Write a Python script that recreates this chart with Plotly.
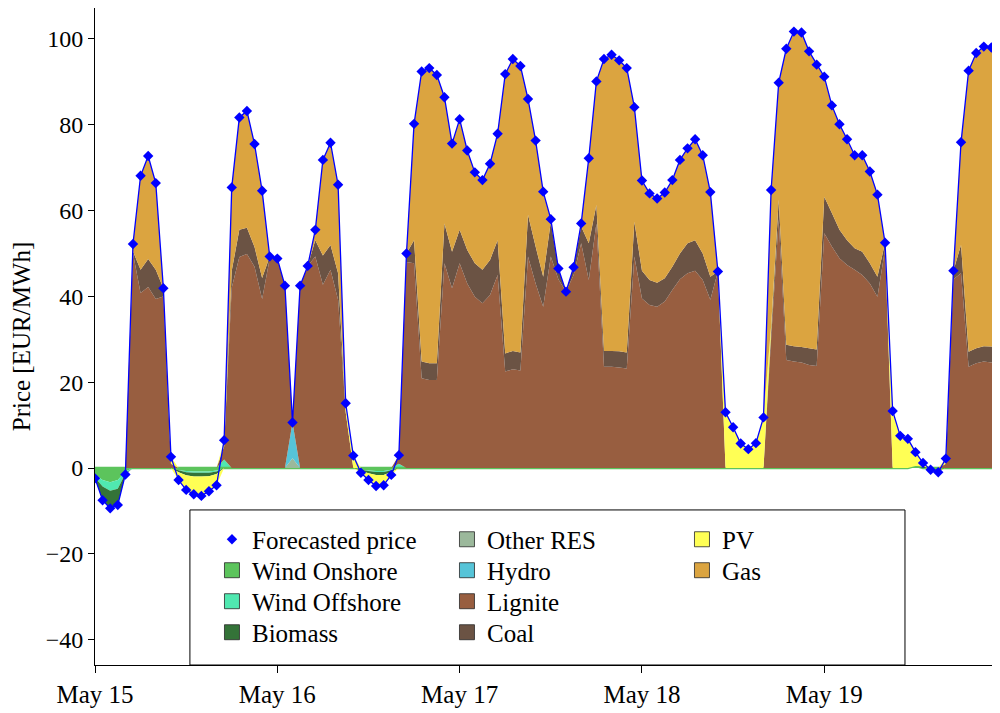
import pandas as pd
import plotly.graph_objects as go

# ---------------- data (hourly, 15-19 May) ----------------
hours = pd.date_range("2019-05-15 00:00", periods=120, freq="h")
day_ticks = pd.date_range("2019-05-15", periods=5, freq="D")
day_labels = ["May 15", "May 16", "May 17", "May 18", "May 19"]

price = [
    -2.4, -7.5, -9.4, -8.6, -1.5, 52.2, 68.1, 72.7, 66.4, 41.9, 2.6, -2.8,
    -5.1, -6.1, -6.5, -5.4, -4.0, 6.5, 65.4, 81.7, 83.2, 75.5, 64.6, 49.3,
    48.8, 42.5, 10.6, 42.5, 47.1, 55.5, 71.8, 75.8, 66.0, 15.1, 2.9, -1.1,
    -2.8, -4.2, -4.0, -1.6, 3.0, 50.0, 80.2, 92.4, 93.2, 91.6, 86.4, 75.6,
    81.3, 74.0, 68.9, 67.1, 70.9, 77.9, 91.8, 95.3, 93.7, 86.0, 76.3, 64.4,
    58.0, 46.5, 41.1, 46.8, 57.0, 72.2, 90.1, 95.3, 96.3, 95.0, 93.2, 84.1,
    67.0, 64.0, 62.8, 64.2, 67.1, 71.8, 74.5, 76.6, 72.9, 64.3, 45.8, 13.0,
    9.5, 5.7, 4.4, 5.8, 11.8, 64.8, 89.8, 97.7, 101.7, 101.5, 97.1, 94.0,
    91.2, 84.5, 80.1, 76.6, 72.9, 72.9, 69.1, 63.7, 52.5, 13.3, 7.5, 6.8,
    3.7, 1.2, -0.4, -1.0, 2.2, 46.0, 75.9, 92.6, 96.7, 98.2, 98.0, 94.7,
]

wind_onshore = [
    -1.5, -2.8, -3.3, -2.8, -0.8, 0, 0, 0, 0, 0, 0, -0.5,
    -0.7, -0.8, -0.8, -0.8, -0.6, 0, 0, 0, 0, 0, 0, 0,
    0, 0, 0, 0, 0, 0, 0, 0, 0, 0, 0, -0.4,
    -0.6, -0.7, -0.7, -0.4, 0, 0, 0, 0, 0, 0, 0, 0,
    0, 0, 0, 0, 0, 0, 0, 0, 0, 0, 0, 0,
    0, 0, 0, 0, 0, 0, 0, 0, 0, 0, 0, 0,
    0, 0, 0, 0, 0, 0, 0, 0, 0, 0, 0, 0,
    0, 0, 0, 0, 0, 0, 0, 0, 0, 0, 0, 0,
    0, 0, 0, 0, 0, 0, 0, 0, 0, 0, 0, 0,
    0.5, 0, -0.2, -0.4, 0, 0, 0, 0, 0, 0, 0, 0,
]

wind_offshore = [
    -0.7, -1.5, -2.0, -2.0, -0.5, 0, 0, 0, 0, 0, 0, 0,
    -0.3, -0.3, -0.3, -0.3, -0.2, 2.0, 0, 0, 0, 0, 0, 0,
    0, 0, 0, 0, 0, 0, 0, 0, 0, 0, 0, 0,
    -0.1, -0.2, -0.2, -0.1, 1.0, 0, 0, 0, 0, 0, 0, 0,
    0, 0, 0, 0, 0, 0, 0, 0, 0, 0, 0, 0,
    0, 0, 0, 0, 0, 0, 0, 0, 0, 0, 0, 0,
    0, 0, 0, 0, 0, 0, 0, 0, 0, 0, 0, 0,
    0, 0, 0, 0, 0, 0, 0, 0, 0, 0, 0, 0,
    0, 0, 0, 0, 0, 0, 0, 0, 0, 0, 0, 0,
    0, 0, 0, 0, 0, 0, 0, 0, 0, 0, 0, 0,
]

biomass = [
    -0.2, -3.2, -4.1, -3.8, -0.2, 0, 0, 0, 0, 0, 0, -0.5,
    -0.7, -0.9, -0.9, -0.8, -0.6, 0, 0, 0, 0, 0, 0, 0,
    0, 0, 0, 0, 0, 0, 0, 0, 0, 0, 0, -0.3,
    -0.5, -0.7, -0.7, -0.4, 0, 0, 0, 0, 0, 0, 0, 0,
    0, 0, 0, 0, 0, 0, 0, 0, 0, 0, 0, 0,
    0, 0, 0, 0, 0, 0, 0, 0, 0, 0, 0, 0,
    0, 0, 0, 0, 0, 0, 0, 0, 0, 0, 0, 0,
    0, 0, 0, 0, 0, 0, 0, 0, 0, 0, 0, 0,
    0, 0, 0, 0, 0, 0, 0, 0, 0, 0, 0, 0,
    0, 0.3, 0, -0.3, 0, 0, 0, 0, 0, 0, 0, 0,
]

other_res = [0] * 26 + [2.3] + [0] * 93
hydro = [0] * 26 + [8.3] + [0] * 93

lignite = [
    0, 0, 0, 0, 0, 50.0, 40.8, 42.2, 39.4, 40.0, 1.0, 0,
    0, 0, 0, 0, 0, 3.0, 42.0, 49.2, 49.9, 46.9, 39.4, 48.8,
    48.8, 42.5, 0, 42.5, 47.1, 49.3, 42.7, 46.2, 39.2, 13.0, 0, 0,
    0, 0, 0, 0, 2.0, 48.0, 47.7, 20.9, 20.5, 20.5, 47.7, 41.9,
    47.7, 43.0, 39.9, 38.4, 40.3, 45.0, 22.5, 23.0, 22.7, 49.3, 43.0, 37.6,
    49.3, 44.0, 41.1, 45.0, 52.4, 43.8, 57.0, 23.6, 23.6, 23.4, 23.2, 49.3,
    39.5, 38.0, 37.6, 38.8, 41.5, 44.0, 45.4, 46.0, 43.8, 39.2, 45.8, 0,
    0, 0, 0, 0, 0, 30.0, 58.0, 25.2, 24.8, 24.6, 24.0, 23.8,
    54.7, 51.6, 48.9, 47.3, 46.2, 45.0, 43.0, 39.9, 51.0, 0, 0, 0,
    0, 0, 0, 0, 1.0, 44.0, 45.4, 23.6, 24.4, 24.8, 24.6, 24.3,
]

coal = [
    0, 0, 0, 0, 0, 0.5, 5.4, 6.5, 6.8, 1.9, 0, 0,
    0, 0, 0, 0, 0, 0, 4.0, 6.3, 6.1, 4.6, 4.9, 0.5,
    0, 0, 0, 0, 0, 3.8, 6.8, 5.8, 6.2, 0, 0, 0,
    0, 0, 0, 0, 0, 2.0, 5.4, 3.9, 3.9, 3.9, 9.3, 8.5,
    7.8, 7.8, 7.8, 7.8, 8.2, 8.1, 4.2, 4.3, 4.2, 9.7, 8.6, 7.0,
    8.1, 2.5, 0, 1.8, 3.9, 8.6, 4.3, 3.7, 3.7, 3.8, 3.7, 8.1,
    6.5, 5.8, 5.6, 5.4, 5.4, 6.0, 7.0, 7.1, 6.2, 5.4, 0, 0,
    0, 0, 0, 0, 0, 2.0, 4.5, 3.5, 3.6, 3.6, 3.9, 3.8,
    8.5, 7.8, 6.6, 5.8, 5.0, 5.4, 4.7, 4.7, 1.5, 0, 0, 0,
    0, 0, 0, 0, 0, 2.0, 6.6, 3.5, 3.5, 3.6, 3.7, 3.7,
]

pv = [
    0, 0, 0, 0, 0, 0, 0, 0, 0, 0, 1.6, -1.8,
    -3.4, -4.1, -4.5, -3.5, -2.6, 1.5, 0, 0, 0, 0, 0, 0,
    0, 0, 0, 0, 0, 0, 0, 0, 0, 2.1, 2.9, -0.4,
    -1.6, -2.6, -2.4, -0.7, 0, 0, 0, 0, 0, 0, 0, 0,
    0, 0, 0, 0, 0, 0, 0, 0, 0, 0, 0, 0,
    0, 0, 0, 0, 0, 0, 0, 0, 0, 0, 0, 0,
    0, 0, 0, 0, 0, 0, 0, 0, 0, 0, 0, 13.0,
    9.5, 5.7, 4.4, 5.8, 11.8, 1.0, 0, 0, 0, 0, 0, 0,
    0, 0, 0, 0, 0, 0, 0, 0, 0, 13.3, 7.5, 6.8,
    3.2, 0.9, -0.2, -0.3, 1.2, 0, 0, 0, 0, 0, 0, 0,
]

gas = [
    0, 0, 0, 0, 0, 1.7, 21.9, 24.0, 20.2, 0, 0, 0,
    0, 0, 0, 0, 0, 0, 19.4, 26.2, 27.2, 24.0, 20.3, 0,
    0, 0, 0, 0, 0, 2.4, 22.3, 23.8, 20.6, 0, 0, 0,
    0, 0, 0, 0, 0, 0, 27.1, 67.6, 68.8, 67.2, 29.4, 25.2,
    25.8, 23.2, 21.2, 20.9, 22.4, 24.8, 65.1, 68.0, 66.8, 27.0, 24.7, 19.8,
    0.6, 0, 0, 0, 0.7, 19.8, 28.8, 68.0, 69.0, 67.8, 66.3, 26.7,
    21.0, 20.2, 19.6, 20.0, 20.2, 21.8, 22.1, 23.5, 22.9, 19.7, 0, 0,
    0, 0, 0, 0, 0, 31.8, 27.3, 69.0, 73.3, 73.3, 69.2, 66.4,
    28.0, 25.1, 24.6, 23.5, 21.7, 22.5, 21.4, 19.1, 0, 0, 0, 0,
    0, 0, 0, 0, 0, 0, 23.9, 65.5, 68.8, 69.8, 69.7, 66.7,
]

# ---------------- styling ----------------
FONT = "Liberation Serif, Times New Roman, serif"
# legend rows (the reference legend is laid out column-wise, 4 rows)
components = [
    # name, values, colour, legend row, rank inside the row
    ("Wind Onshore", wind_onshore, "#5cc45c", "legend2", 1),
    ("Wind Offshore", wind_offshore, "#50e8b0", "legend3", 1),
    ("Biomass", biomass, "#347338", "legend4", 1),
    ("Other RES", other_res, "#9bb89b", "legend", 2),
    ("Hydro", hydro, "#56c4d8", "legend2", 2),
    ("Lignite", lignite, "#985e40", "legend3", 2),
    ("Coal", coal, "#6b5344", "legend4", 2),
    ("PV", pv, "#ffff55", "legend", 3),
    ("Gas", gas, "#dba440", "legend2", 3),
]

fig = go.Figure()

for i, (name, vals, color, leg, rank) in enumerate(components):
    pos = [v if v > 0 else 0 for v in vals]
    first = i == 0
    fig.add_trace(go.Scatter(
        x=hours, y=pos, name=name, stackgroup="pos",
        mode="lines" if first else "none",
        line=dict(color=color, width=2.5 if first else 0),
        fillcolor=color, showlegend=False, hoverinfo="skip",
    ))
    if any(v < 0 for v in vals):
        neg = [v if v < 0 else 0 for v in vals]
        fig.add_trace(go.Scatter(
            x=hours, y=neg, name=name, stackgroup="neg", mode="none",
            fillcolor=color, showlegend=False, hoverinfo="skip",
        ))
    # legend entry: square swatch like the reference
    fig.add_trace(go.Scatter(
        x=[None], y=[None], mode="markers", name=name,
        marker=dict(symbol="square", size=15, color=color,
                    line=dict(color="rgba(40,40,40,0.8)", width=1)),
        legend=leg, legendrank=rank, hoverinfo="skip",
    ))

fig.add_trace(go.Scatter(
    x=hours, y=price, mode="lines", line=dict(color="#0000ff", width=1.3),
    showlegend=False, hoverinfo="skip",
))
fig.add_trace(go.Scatter(
    x=hours, y=price, mode="markers", name="Forecasted price",
    marker=dict(symbol="diamond", size=8, color="#0000ff"),
    legend="legend", legendrank=1,
))

LEG_X = 0.1294
row_y = [0.1910, 0.1439, 0.0967, 0.0495]


def row_legend(y):
    return dict(
        x=LEG_X, y=y, xanchor="left", yanchor="middle",
        orientation="h", entrywidth=190, entrywidthmode="pixels",
        bgcolor="rgba(0,0,0,0)", borderwidth=0, traceorder="normal",
        font=dict(family=FONT, size=25, color="black"),
    )


fig.update_layout(
    width=1000, height=713,
    margin=dict(l=87, r=9, t=0, b=56),
    plot_bgcolor="white", paper_bgcolor="white",
    font=dict(family=FONT, size=25, color="black"),
    legend=row_legend(row_y[0]),
    legend2=row_legend(row_y[1]),
    legend3=row_legend(row_y[2]),
    legend4=row_legend(row_y[3]),
    shapes=[dict(
        type="rect", xref="paper", yref="paper",
        x0=0.105, x1=0.896, y0=0.0, y1=0.236,
        line=dict(color="black", width=1), fillcolor="white", layer="above",
    )],
    xaxis=dict(
        type="date", range=[hours[0], hours[-1]],
        tickvals=day_ticks, ticktext=day_labels,
        ticks="outside", ticklen=7, tickcolor="black",
        showline=True, linecolor="black", linewidth=1, mirror=True,
        showgrid=False, zeroline=False,
        tickfont=dict(family=FONT, size=25),
    ),
    yaxis=dict(
        range=[-45.9, 107.2], tickmode="linear", tick0=0, dtick=20,
        ticks="outside", ticklen=6, tickcolor="black",
        showline=True, linecolor="black", linewidth=1, mirror=True,
        showgrid=False, zeroline=False,
        tickfont=dict(family=FONT, size=24),
        title=dict(text="Price [EUR/MWh]", font=dict(family=FONT, size=25), standoff=14),
    ),
)

fig.write_html("out.html")
